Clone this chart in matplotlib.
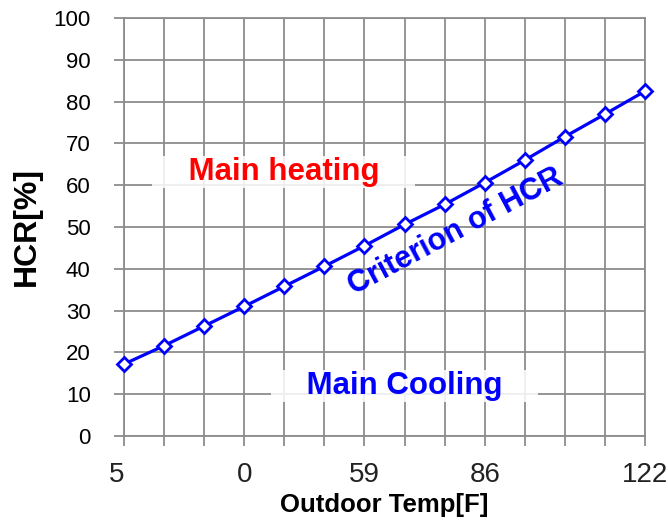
import matplotlib
matplotlib.use("Agg")
import matplotlib.pyplot as plt

# HCR criterion, one point per outdoor temp step
hcr = [17.2, 21.6, 26.3, 31.0, 35.8, 40.6, 45.5, 50.6, 55.4, 60.6, 66.0, 71.6, 77.0, 82.5]
temp_labels = ['5', '', '', '0', '', '', '59', '', '', '86', '', '', '', '122']
y_ticks = list(range(0, 101, 10))

plt.rcParams['font.family'] = ['Liberation Sans', 'DejaVu Sans']

fig = plt.figure(figsize=(6.68, 5.25), dpi=100)
ax = fig.add_axes([124 / 668, 1 - 436 / 525, 521 / 668, 418 / 525])

x = list(range(len(hcr)))
ax.plot(x, hcr, color='#0000ff', linewidth=2.3, marker='D', markersize=7,
        markerfacecolor='white', markeredgecolor='#0000ff', markeredgewidth=2,
        zorder=5, clip_on=False)

ax.set_xlim(0, len(hcr) - 1)
ax.set_ylim(0, 100)
ax.set_xticks(x)
ax.set_xticklabels(temp_labels, fontsize=20, color='#222222')
ax.get_xticklabels()[0].set_horizontalalignment('right')
ax.set_yticks(y_ticks)
ax.set_yticklabels([str(v) for v in y_ticks], fontsize=16)

ax.grid(True, color='#8c8c8c', linewidth=1.3)
ax.set_axisbelow(True)
for s in ax.spines.values():
    s.set_color('#8c8c8c')
    s.set_linewidth(1.3)
ax.tick_params(axis='both', colors='#8c8c8c', length=7, width=1.3)
ax.tick_params(axis='y', labelcolor='black', pad=17)
ax.tick_params(axis='x', labelcolor='#222222', pad=12)

ax.set_xlabel('Outdoor Temp[F]', fontsize=18.5, fontweight='bold', labelpad=3)
ax.set_ylabel('HCR[%]', fontsize=23, fontweight='bold', labelpad=8)

box = dict(facecolor='white', edgecolor='none', pad=1, alpha=0.85)
ax.text(3.98, 63.2, '    Main heating    ', color='#ff0000', fontsize=22.5,
        fontweight='bold', ha='center', va='center', bbox=box)
ax.text(7.0, 12.0, '    Main Cooling    ', color='#0000ff', fontsize=22.5,
        fontweight='bold', ha='center', va='center', bbox=box)
ax.text(8.28, 48.8, 'Criterion of HCR', color='#0000ff', fontsize=22,
        fontweight='bold', ha='center', va='center', rotation=28)

fig.savefig('out.png', dpi=100)
